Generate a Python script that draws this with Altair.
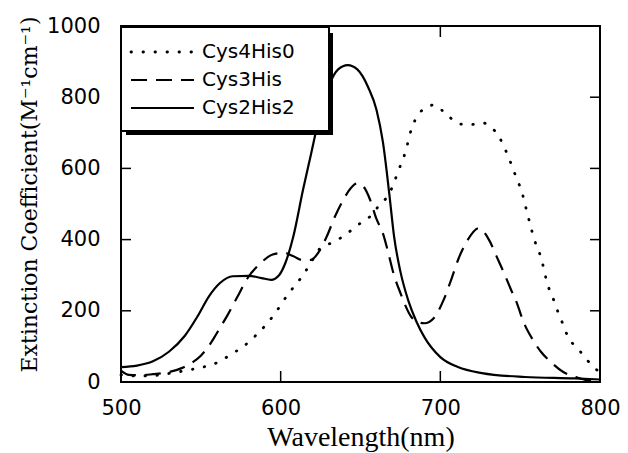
import altair as alt
import pandas as pd

series_names = ["Cys4His0", "Cys3His", "Cys2His2"]

# Cys4His0 (dotted)
wl_c4 = [500, 510, 520, 530, 538, 545, 554, 561, 569, 577, 584, 591, 597, 602, 608, 614, 619, 624, 634, 641,
         648, 656, 662, 668, 671, 674, 677, 679, 681, 684, 689, 696, 704, 712, 719, 726, 734, 739, 742, 745,
         748, 751, 753, 757, 759, 762, 764, 766, 768, 771, 774, 777, 780, 786, 791, 798, 800]
ext_c4 = [20, 17, 18, 24, 30, 36, 45, 56, 78, 101, 129, 162, 196, 230, 266, 300, 336, 372, 395, 415,
          440, 465, 498, 529, 560, 597, 630, 661, 697, 734, 765, 778, 751, 725, 723, 728, 706, 670, 639, 605,
          569, 535, 500, 430, 398, 364, 333, 294, 263, 230, 193, 160, 126, 95, 67, 34, 30]

# Cys3His (dashed)
wl_c3 = [500, 505, 512, 520, 530, 538, 545, 550, 554, 558, 562, 567, 573, 579, 587, 595, 602, 608, 614, 619,
         624, 629, 634, 639, 644, 648, 652, 656, 660, 664, 667, 671, 675, 682, 686, 690, 696, 702, 707, 711,
         717, 724, 731, 735, 740, 744, 748, 752, 758, 763, 770, 777, 785, 792, 800]
ext_c3 = [32, 20, 19, 22, 28, 39, 56, 74, 95, 122, 152, 190, 240, 290, 332, 358, 363, 353, 342, 343,
          366, 410, 465, 510, 545, 558, 548, 512, 458, 418, 370, 300, 250, 182, 168, 165, 180, 230, 290, 342,
          398, 432, 395, 355, 305, 262, 221, 170, 118, 85, 53, 28, 14, 5, 2]

# Cys2His2 (solid)
wl_c2 = [500, 510, 520, 530, 540, 548, 555, 562, 570, 580, 588, 594, 599, 603, 608, 614, 619, 624, 630, 636,
         642, 648, 655, 660, 664, 668, 671, 675, 680, 685, 690, 700, 711, 726, 753, 784, 800]
ext_c2 = [42, 46, 58, 85, 130, 185, 240, 278, 297, 298, 292, 287, 300, 335, 410, 540, 640, 740, 830, 878,
          890, 878, 826, 765, 675, 530, 410, 310, 228, 170, 126, 70, 42, 25, 14, 10, 7]

x_ticks = [500, 600, 700, 800]
y_ticks = [0, 200, 400, 600, 800, 1000]
inner_y_ticks = [200, 400, 600, 800]
inner_x_ticks = [600, 700]

W, H = 479, 356

rows = []
for name, wls, vals in zip(series_names, [wl_c4, wl_c3, wl_c2], [ext_c4, ext_c3, ext_c2]):
    for w, v in zip(wls, vals):
        rows.append({"series": name, "wl": w, "ext": v})
df = pd.DataFrame(rows)

xscale = alt.Scale(domain=[500, 800], nice=False, zero=False)
yscale = alt.Scale(domain=[0, 1000], nice=False, zero=False)

xaxis = alt.Axis(values=x_ticks, format="d", labelFont="DejaVu Sans", labelFontSize=21, labelColor="black",
                 domain=False, ticks=False, tickSize=0, grid=False, labelPadding=15, labelFlush=False,
                 title="Wavelength(nm)", titleFont="Liberation Serif", titleFontSize=28, titleFontWeight="normal",
                 titleColor="black", titleY=63, titleX=W / 2, titleBaseline="alphabetic", titleAlign="center")
yaxis = alt.Axis(values=y_ticks, format="d", labelFont="DejaVu Sans", labelFontSize=21, labelColor="black",
                 domain=False, ticks=False, tickSize=0, grid=False, labelPadding=21, labelFlush=False,
                 title="Extinction Coefficient(M⁻¹cm⁻¹)", titleFont="DejaVu Serif", titleFontSize=22,
                 titleFontWeight="normal", titleColor="black", titleX=-85, titleY=168, titleAngle=270,
                 titleBaseline="alphabetic", titleAlign="center")

base = alt.Chart(df)

def line_layer(name, **mark_kw):
    return base.transform_filter(alt.datum.series == name).mark_line(
        color="black", interpolate="monotone", **mark_kw
    ).encode(
        x=alt.X("wl:Q", scale=xscale, axis=xaxis),
        y=alt.Y("ext:Q", scale=yscale, axis=yaxis),
    )

dotted = line_layer(series_names[0], strokeWidth=2.8, strokeDash=[0.5, 11.5], strokeCap="round")
dashed = line_layer(series_names[1], strokeWidth=2.2, strokeDash=[16, 9])
solid = line_layer(series_names[2], strokeWidth=2.2)

ytick_df = pd.DataFrame({"v": inner_y_ticks})
xtick_df = pd.DataFrame({"v": inner_x_ticks})
tick_left = alt.Chart(ytick_df).mark_rule(color="black", strokeWidth=1.5).encode(
    y=alt.Y("v:Q", scale=yscale), x=alt.value(0), x2=alt.value(10))
tick_right = alt.Chart(ytick_df).mark_rule(color="black", strokeWidth=1.5).encode(
    y=alt.Y("v:Q", scale=yscale), x=alt.value(W - 10), x2=alt.value(W))
tick_bottom = alt.Chart(xtick_df).mark_rule(color="black", strokeWidth=1.5).encode(
    x=alt.X("v:Q", scale=xscale), y=alt.value(H - 11), y2=alt.value(H))
tick_top = alt.Chart(xtick_df).mark_rule(color="black", strokeWidth=1.5).encode(
    x=alt.X("v:Q", scale=xscale), y=alt.value(0), y2=alt.value(11))

# custom legend
one = pd.DataFrame({"k": [0]})
shadow = alt.Chart(one).mark_rect(color="black").encode(
    x=alt.value(5), x2=alt.value(212), y=alt.value(7), y2=alt.value(109))
box = alt.Chart(one).mark_rect(fill="white", stroke="black", strokeWidth=2).encode(
    x=alt.value(0), x2=alt.value(208), y=alt.value(1), y2=alt.value(105))

legend_layers = []
styles = [
    dict(strokeWidth=2.8, strokeDash=[0.5, 11.5], strokeCap="round"),
    dict(strokeWidth=2.2, strokeDash=[16, 9]),
    dict(strokeWidth=2.2),
]
row_y = [26, 54, 82]
for name, st, ry in zip(series_names, styles, row_y):
    d = pd.DataFrame({"name": [name]})
    legend_layers.append(alt.Chart(d).mark_rule(color="black", **st).encode(
        x=alt.value(10), x2=alt.value(73), y=alt.value(ry)))
    legend_layers.append(alt.Chart(d).mark_text(
        align="left", baseline="middle", font="DejaVu Sans", fontSize=20, color="black").encode(
        x=alt.value(81), y=alt.value(ry), text="name:N"))

chart = alt.layer(
    dotted, dashed, solid, tick_left, tick_right, tick_bottom, tick_top, shadow, box, *legend_layers
).properties(
    width=W, height=H,
    autosize=alt.AutoSizeParams(type="none"),
    padding={"left": 121, "top": 26, "right": 28, "bottom": 71},
    background="white",
).configure_view(stroke="black", strokeWidth=2)

chart.save("out.html", embed_options={"renderer": "svg", "actions": False})
